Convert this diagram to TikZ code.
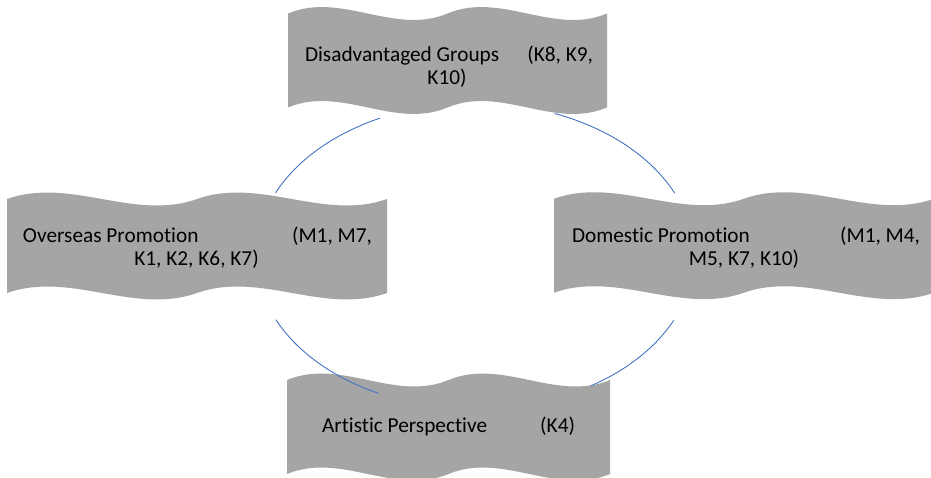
\documentclass[tikz,border=0pt]{standalone}
\usepackage{fontspec}
\setmainfont{Carlito}[Ligatures={NoCommon,NoRequired,NoContextual}]
\definecolor{wavegray}{HTML}{A5A5A5}
\definecolor{ringblue}{HTML}{4472C4}

% double-wave banner: left, top, width, height (y grows downward)
\newcommand\drawwave[4]{%
  \pgfmathsetmacro\wL{#1}%
  \pgfmathsetmacro\wR{#1+#3}%
  \pgfmathsetmacro\wA{#1+#3/6}%
  \pgfmathsetmacro\wB{#1+#3/3}%
  \pgfmathsetmacro\wM{#1+#3/2}%
  \pgfmathsetmacro\wC{#1+2*#3/3}%
  \pgfmathsetmacro\wD{#1+5*#3/6}%
  \pgfmathsetmacro\yT{#2+0.0625*#4}%
  \pgfmathsetmacro\yB{#2+0.9375*#4}%
  \pgfmathsetmacro\dY{0.208333*#4}%
  \fill[wavefill] (\wL,\yT)
    .. controls (\wA,\yT-\dY) and (\wB,\yT+\dY) .. (\wM,\yT)
    .. controls (\wC,\yT-\dY) and (\wD,\yT+\dY) .. (\wR,\yT)
    -- (\wR,\yB)
    .. controls (\wD,\yB+\dY) and (\wC,\yB-\dY) .. (\wM,\yB)
    .. controls (\wB,\yB+\dY) and (\wA,\yB-\dY) .. (\wL,\yB) -- cycle;%
}

\tikzset{
  wavefill/.style={fill=wavegray},
  lbl/.style={font=\fontsize{21.3}{23}\selectfont, text=black, inner sep=0pt, anchor=base},
  ring/.style={draw=ringblue, line width=0.9pt},
}

\begin{document}
\begin{tikzpicture}[x=1pt,y=-1pt]
  \useasboundingbox (0,0) rectangle (931,477);
  \clip (0,0) rectangle (931,477);

  % banners
  \drawwave{288}{6.8}{319}{107.4}
  \drawwave{7}{192.3}{380}{107.4}
  \drawwave{554}{192}{380}{107.4}
  \drawwave{287}{373.3}{323}{107.4}

  % labels
  \node[lbl] (disA) at (449,61) {\makebox[288pt]{Disadvantaged Groups\hfill(K8, K9,}};
  \node[lbl] (disB) at (447,84) {K10)};
  \node[lbl] (ovsA) at (197.5,242) {\makebox[349pt]{Overseas Promotion\hfill(M1, M7,}};
  \node[lbl] (ovsB) at (196.5,265) {K1, K2, K6, K7)};
  \node[lbl] (domA) at (746,242) {\makebox[348pt]{Domestic Promotion\hfill(M1, M4,}};
  \node[lbl] (domB) at (744,265) {M5, K7, K10)};
  \node[lbl] (art) at (448.5,432) {\makebox[253pt]{Artistic Perspective\hfill(K4)}};

  % cycle arcs around a common hub
  \coordinate (hub) at (475,256);
  \draw[ring] (hub) ++(115.7:219pt and 153pt) arc[start angle=115.7, end angle=155.6, x radius=219pt, y radius=153pt];
  \draw[ring] (hub) ++(68.7:219pt and 153pt) arc[start angle=68.7, end angle=24.2, x radius=219pt, y radius=153pt];
  \draw[ring] (hub) ++(204.6:219pt and 153pt) arc[start angle=204.6, end angle=243.7, x radius=219pt, y radius=153pt];
  \draw[ring] (hub) ++(-24.9:219pt and 153pt) arc[start angle=-24.9, end angle=-58.1, x radius=219pt, y radius=153pt];
\end{tikzpicture}
\end{document}
